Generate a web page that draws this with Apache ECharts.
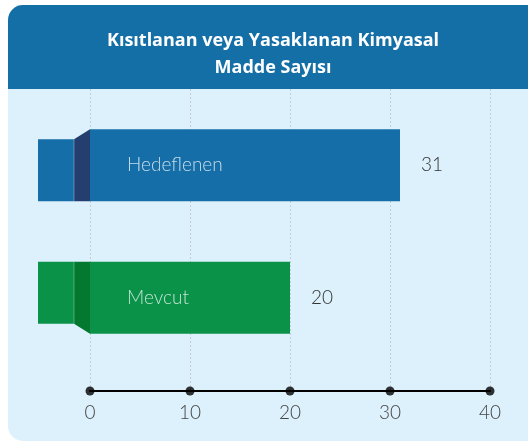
<!DOCTYPE html>
<html>
<head>
<meta charset="utf-8">
<script src="https://cdn.jsdelivr.net/npm/echarts@6/dist/echarts.min.js"></script>
<style>
html, body { margin: 0; padding: 0; background: #fff; }
#main { width: 528px; height: 441px; }
</style>
</head>
<body>
<div id="main"></div>
<script>
// veriler
var categories = ['Hedeflenen', 'Mevcut'];
var values = [31, 20];
var xTicks = [0, 10, 20, 30, 40];
var titleText = 'Kısıtlanan veya Yasaklanan Kimyasal\nMadde Sayısı';

// renkler
var barColors = ['#156ea7', '#0a9249'];
var foldColors = ['#243f6f', '#03792f'];

var myChart = echarts.init(document.getElementById('main'));

function renderBar(params, api) {
	var idx = api.value(1);
	var start = api.coord([0, idx]);
	var end = api.coord([api.value(0), idx]);
	var band = api.size([0, 1])[1];
	var h = band * 0.545;
	var top = start[1] - h / 2, bot = start[1] + h / 2;
	var fold = 16, tail = 36, drop = 10;
	// ust satirda kuyruk asagi, alt satirda yukari kivrik
	var tailTop = idx === 0 ? top + drop : top;
	var tailBot = idx === 0 ? bot : bot - drop;
	return {
		type: 'group',
		children: [
			{ type: 'rect', shape: { x: start[0] - fold - tail, y: tailTop, width: tail, height: tailBot - tailTop }, style: { fill: barColors[idx] } },
			{ type: 'polygon', shape: { points: [[start[0] - fold, tailTop], [start[0], top], [start[0], bot], [start[0] - fold, tailBot]] }, style: { fill: foldColors[idx] } },
			{ type: 'line', shape: { x1: start[0] - fold, y1: tailTop, x2: start[0] - fold, y2: tailBot }, style: { stroke: 'rgba(255,255,255,0.3)', lineWidth: 1 } },
			{ type: 'rect', shape: { x: start[0], y: top, width: end[0] - start[0], height: h }, style: { fill: barColors[idx] } },
			{ type: 'text', x: start[0] + 37, y: start[1], style: { text: categories[idx], fill: 'rgba(255,255,255,0.75)', fontSize: 19, fontFamily: 'Lato', fontWeight: 300, verticalAlign: 'middle' } },
			{ type: 'text', x: end[0] + 21, y: start[1], style: { text: String(api.value(0)), fill: '#333', fontSize: 19, fontFamily: 'Lato', fontWeight: 300, verticalAlign: 'middle' } }
		]
	};
}

var barData = values.map(function (v, i) { return [v, i]; });
var dotData = xTicks.map(function (t) { return [t, 0]; });

var option = {
	backgroundColor: '#fff',
	animation: false,
	graphic: [
		{ type: 'rect', z: -10, shape: { x: 8, y: 5, width: 540, height: 436, r: 15 }, style: { fill: '#ddf1fc' } },
		{ type: 'rect', z: -9, shape: { x: 8, y: 5, width: 540, height: 84, r: [15, 15, 0, 0] }, style: { fill: '#146fa7' } },
		{ type: 'text', z: 10, x: 273, y: 54, style: { text: titleText, fill: '#fff', fontSize: 18, fontWeight: 'bold', fontFamily: 'Open Sans', align: 'center', verticalAlign: 'middle', lineHeight: 27 } }
	],
	grid: [
		{ left: 90, right: 38, top: 89, bottom: 50 },
		{ left: 90, right: 38, top: 99, height: 265 }
	],
	xAxis: [{
		gridIndex: 0,
		type: 'value',
		min: 0, max: 40, interval: 10,
		axisLine: { show: true, lineStyle: { color: '#000', width: 2 } },
		axisTick: { show: false },
		axisLabel: { color: '#444', fontSize: 19, fontFamily: 'Lato', fontWeight: 300, margin: 12 },
		splitLine: { show: true, lineStyle: { color: '#c5cbd0', type: [2, 2], width: 1 } }
	}, {
		gridIndex: 1,
		type: 'value',
		min: 0, max: 40,
		show: false
	}],
	yAxis: [{
		gridIndex: 0,
		type: 'value',
		min: 0, max: 1,
		show: false
	}, {
		gridIndex: 1,
		type: 'category',
		inverse: true,
		data: categories,
		show: false
	}],
	series: [{
		type: 'scatter',
		xAxisIndex: 0,
		yAxisIndex: 0,
		symbolSize: 9,
		itemStyle: { color: '#000' },
		data: dotData,
		z: 5
	}, {
		type: 'custom',
		xAxisIndex: 1,
		yAxisIndex: 1,
		renderItem: renderBar,
		encode: { x: 0, y: 1 },
		clip: false,
		data: barData
	}]
};

myChart.setOption(option);
</script>
</body>
</html>
